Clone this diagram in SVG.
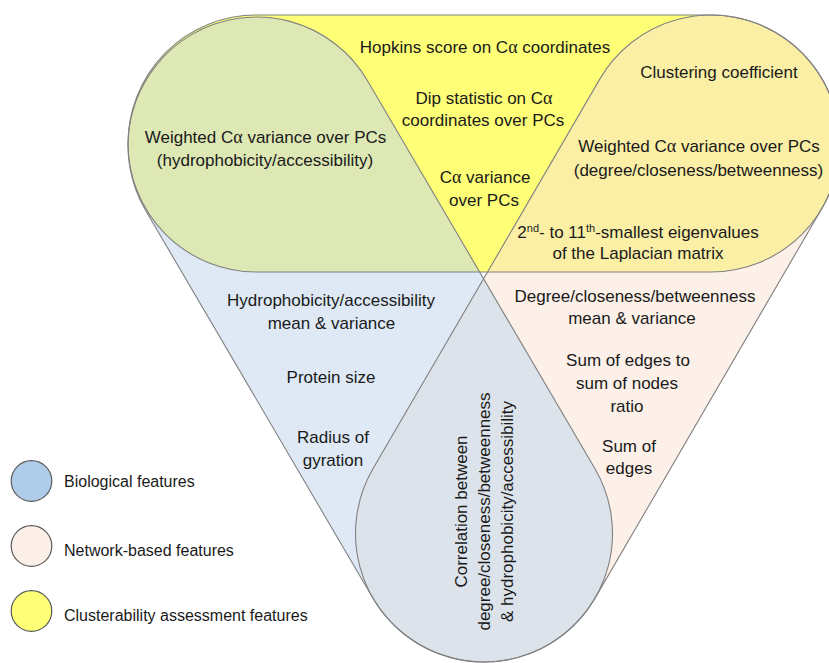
<svg xmlns="http://www.w3.org/2000/svg" xmlns:xlink="http://www.w3.org/1999/xlink" width="829" height="663" viewBox="0 0 829 663">
<style>
  text { font-family: "Liberation Sans", Arial, sans-serif; font-size: 17px; fill: #1a1a1a; text-anchor: middle; }
  .lg { font-size: 16px; text-anchor: start; }
  .a { font-family: "Liberation Serif", "Times New Roman", serif; font-size: 18px; }
  .sup { font-size: 11px; }
  .outline { fill: none; stroke: #808080; stroke-width: 1.1; }
  .lgc { stroke: #5a5a5a; stroke-width: 1.2; }
</style>
<defs>
  <rect id="capY" x="128" y="15" width="711.5" height="257" rx="128.5" ry="128.5"/>
  <rect id="capB" x="-353.4" y="-128.5" width="706.8" height="257" rx="128.5" ry="128.5" transform="translate(370.25,339.5) rotate(59.62)"/>
  <rect id="capO" x="-354.1" y="-128.5" width="708.2" height="257" rx="128.5" ry="128.5" transform="translate(597.5,338.5) rotate(120.2)"/>
  <clipPath id="clipB"><use xlink:href="#capB"/></clipPath>
  <clipPath id="clipO"><use xlink:href="#capO"/></clipPath>
</defs>

<g id="set-clusterability"><use xlink:href="#capY" fill="#FFFF77"/></g>
<g id="set-biological"><use xlink:href="#capB" fill="#DEE9F5"/></g>
<g id="set-network"><use xlink:href="#capO" fill="#FCF0E8"/></g>
<g id="overlap-bio-cluster"><use xlink:href="#capY" fill="#DDE8B4" clip-path="url(#clipB)"/></g>
<g id="overlap-net-cluster"><use xlink:href="#capY" fill="#FAEFA5" clip-path="url(#clipO)"/></g>
<g id="overlap-bio-net"><use xlink:href="#capB" fill="#DCE3EA" clip-path="url(#clipO)"/></g>
<g id="outlines">
  <use xlink:href="#capY" class="outline"/>
  <use xlink:href="#capB" class="outline"/>
  <use xlink:href="#capO" class="outline"/>
</g>

<g id="label-hopkins"><text x="485" y="53">Hopkins score on C<tspan class="a">α</tspan> coordinates</text></g>
<g id="label-dip"><text x="484" y="104">Dip statistic on C<tspan class="a">α</tspan></text><text x="483" y="126">coordinates over PCs</text></g>
<g id="label-ca-variance"><text x="485" y="183">C<tspan class="a">α</tspan> variance</text><text x="484" y="206">over PCs</text></g>
<g id="label-weighted-hydro"><text x="265.5" y="143">Weighted C<tspan class="a">α</tspan> variance over PCs</text><text x="265" y="166">(hydrophobicity/accessibility)</text></g>
<g id="label-clustering"><text x="719" y="78">Clustering coefficient</text></g>
<g id="label-weighted-degree"><text x="699" y="152">Weighted C<tspan class="a">α</tspan> variance over PCs</text><text x="698.5" y="176">(degree/closeness/betweenness)</text></g>
<g id="label-eigen"><text x="638" y="238">2<tspan class="sup" dy="-6">nd</tspan><tspan dy="6">- to 11</tspan><tspan class="sup" dy="-6">th</tspan><tspan dy="6">-smallest eigenvalues</tspan></text><text x="638" y="259">of the Laplacian matrix</text></g>
<g id="label-hydro-mean"><text x="331" y="306">Hydrophobicity/accessibility</text><text x="331.5" y="329">mean &amp; variance</text></g>
<g id="label-protein-size"><text x="331" y="383">Protein size</text></g>
<g id="label-radius"><text x="333" y="443">Radius of</text><text x="333" y="466">gyration</text></g>
<g id="label-degree-mean"><text x="635" y="302">Degree/closeness/betweenness</text><text x="632" y="324">mean &amp; variance</text></g>
<g id="label-edges-ratio"><text x="628" y="366">Sum of edges to</text><text x="627" y="389">sum of nodes</text><text x="627" y="412">ratio</text></g>
<g id="label-sum-edges"><text x="629" y="452">Sum of</text><text x="629" y="474">edges</text></g>
<g id="label-correlation">
  <text transform="translate(467,511.5) rotate(-90)">Correlation between</text>
  <text transform="translate(490,511.5) rotate(-90)">degree/closeness/betweenness</text>
  <text transform="translate(513,511.5) rotate(-90)">&amp; hydrophobicity/accessibility</text>
</g>

<g id="legend-biological"><circle cx="31.5" cy="481" r="20.3" fill="#AFCCEA" class="lgc"/><text class="lg" x="64" y="487">Biological features</text></g>
<g id="legend-network"><circle cx="31.5" cy="546" r="20.3" fill="#FBEFE7" class="lgc"/><text class="lg" x="64" y="556">Network-based features</text></g>
<g id="legend-clusterability"><circle cx="31.5" cy="611" r="20.3" fill="#FFFF77" class="lgc"/><text class="lg" x="64" y="620.5">Clusterability assessment features</text></g>
</svg>
